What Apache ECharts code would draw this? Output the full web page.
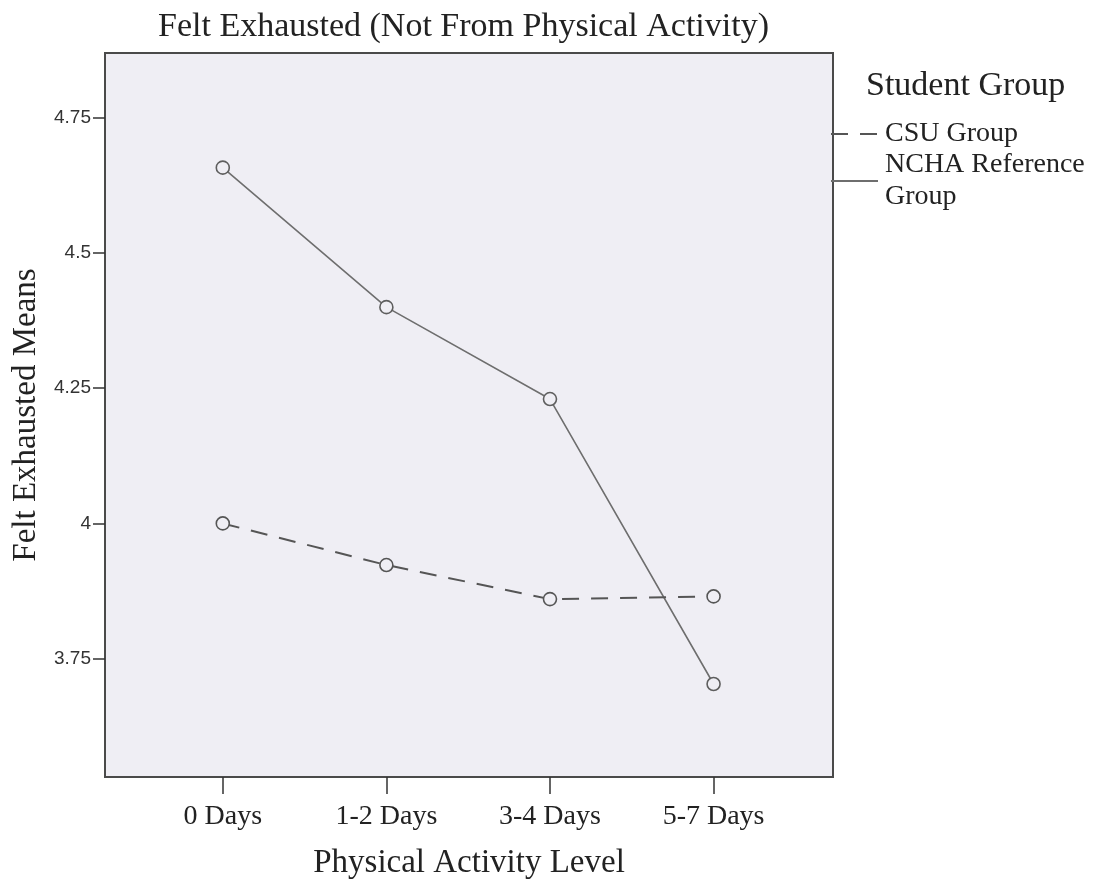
<!DOCTYPE html>
<html>
<head>
<meta charset="utf-8">
<script src="https://cdn.jsdelivr.net/npm/echarts@6/dist/echarts.min.js"></script>
<style>
  html, body { margin: 0; padding: 0; background: #fff; }
  #chart { width: 1098px; height: 885px; }
</style>
</head>
<body>
<div id="chart"></div>
<script>
var categories = ['0 Days', '1-2 Days', '3-4 Days', '5-7 Days'];
var csuMeans = [4.00, 3.923, 3.860, 3.865];
var nchaMeans = [4.658, 4.40, 4.230, 3.703];
var yTicks = [3.75, 4, 4.25, 4.5, 4.75];

var serif = '"Liberation Serif", "Times New Roman", serif';

function toPoints(arr) {
    return arr.map(function (v, i) { return [i, v]; });
}

var option = {
    animation: false,
    title: {
        text: 'Felt Exhausted (Not From Physical Activity)',
        left: 153,
        top: 5,
        textStyle: { fontFamily: serif, fontSize: 34, fontWeight: 'normal', color: '#222' }
    },
    graphic: [{
        type: 'text',
        left: 866,
        top: 69,
        style: { text: 'Student Group', font: '34px ' + serif, fill: '#222' }
    }],
    legend: {
        orient: 'vertical',
        left: 825,
        top: 113,
        itemWidth: 47,
        itemHeight: 14,
        itemGap: -1,
        itemStyle: { opacity: 0 },
        textStyle: { fontFamily: serif, fontSize: 28, color: '#222', lineHeight: 32, padding: [0, 0, 0, 2] },
        data: ['CSU Group', 'NCHA Reference\nGroup']
    },
    grid: {
        left: 105,
        right: 265,
        top: 53,
        bottom: 107,
        show: true,
        backgroundColor: '#EFEEF4',
        borderColor: '#4a4a4a',
        borderWidth: 2
    },
    xAxis: {
        type: 'value',
        min: -0.72,
        max: 3.73,
        name: 'Physical Activity Level',
        nameLocation: 'middle',
        nameGap: 70,
        nameTextStyle: { fontFamily: serif, fontSize: 33, color: '#222' },
        axisLine: { show: true, onZero: false, lineStyle: { color: '#4a4a4a', width: 2 } },
        axisTick: { show: true, length: 17, customValues: [0, 1, 2, 3], lineStyle: { color: '#333', width: 1.5 } },
        axisLabel: {
            customValues: [0, 1, 2, 3],
            margin: 26,
            fontFamily: serif,
            fontSize: 28,
            color: '#222',
            formatter: function (v) { return categories[Math.round(v)]; }
        },
        splitLine: { show: false }
    },
    yAxis: {
        type: 'value',
        min: 3.531,
        max: 4.87,
        name: 'Felt Exhausted Means',
        nameLocation: 'middle',
        nameGap: 56,
        nameTextStyle: { fontFamily: serif, fontSize: 33, color: '#222' },
        axisLine: { show: true, onZero: false, lineStyle: { color: '#4a4a4a', width: 2 } },
        axisTick: { show: true, length: 12, customValues: yTicks, lineStyle: { color: '#333', width: 1.5 } },
        axisLabel: {
            customValues: yTicks,
            margin: 14,
            fontFamily: '"Liberation Sans", Arial, sans-serif',
            fontSize: 19,
            color: '#333'
        },
        splitLine: { show: false }
    },
    series: [
        {
            name: 'CSU Group',
            type: 'line',
            data: toPoints(csuMeans),
            symbol: 'circle',
            symbolSize: 13,
            lineStyle: { color: '#555', width: 2, type: [17, 12] },
            itemStyle: { color: '#EFEEF4', borderColor: '#555', borderWidth: 1.6 },
            z: 3
        },
        {
            name: 'NCHA Reference\nGroup',
            type: 'line',
            data: toPoints(nchaMeans),
            symbol: 'circle',
            symbolSize: 13,
            lineStyle: { color: '#6e6e6e', width: 1.6 },
            itemStyle: { color: '#EFEEF4', borderColor: '#5e5e5e', borderWidth: 1.6 },
            z: 2
        }
    ]
};

var chart = echarts.init(document.getElementById('chart'));
chart.setOption(option);
</script>
</body>
</html>
